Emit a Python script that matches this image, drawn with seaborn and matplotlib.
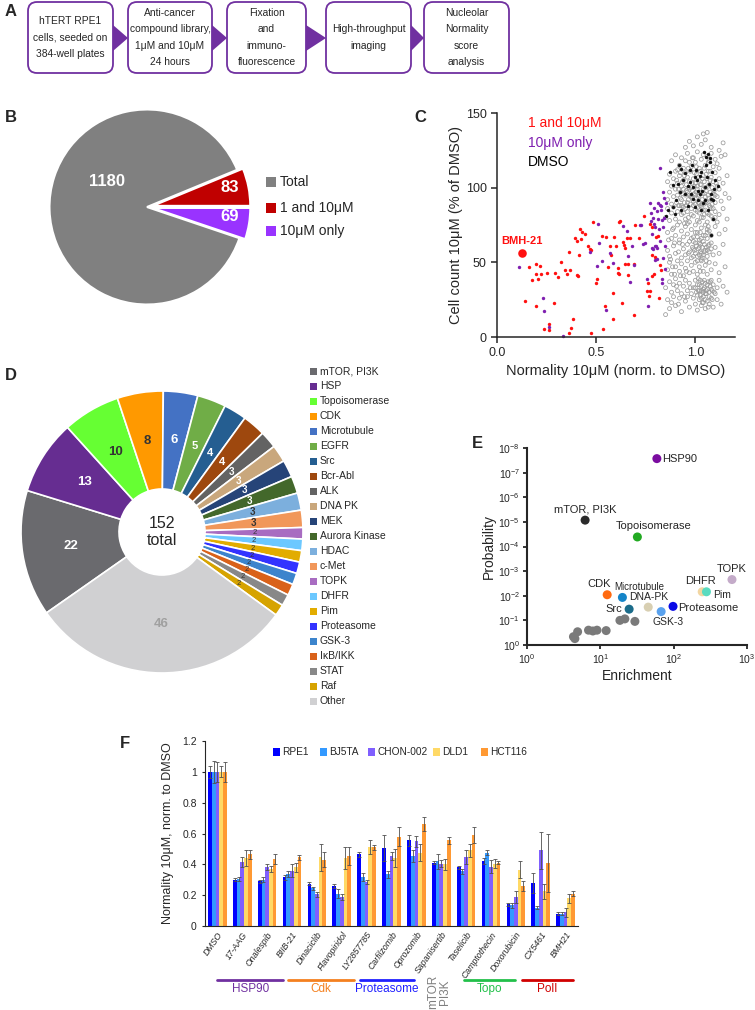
import numpy as np
import pandas as pd
import matplotlib
matplotlib.use("Agg")
import matplotlib.pyplot as plt
import seaborn as sns
from matplotlib import transforms, font_manager
from matplotlib.patches import FancyBboxPatch, Polygon, Rectangle
from matplotlib.ticker import FuncFormatter, NullLocator

# ---------------- A: workflow ----------------
steps = ["hTERT RPE1\ncells, seeded on\n384-well plates",
         "Anti-cancer\ncompound library,\n1μM and 10μM\n24 hours",
         "Fixation\nand\nimmuno-\nfluorescence",
         "High-throughput\nimaging",
         "Nucleolar\nNormality\nscore\nanalysis"]

# ---------------- B: hits pie ----------------
hit_labels = ["Total", "1 and 10μM", "10μM only"]
hit_counts = [1180, 83, 69]
hit_colors = ["#808080", "#C00000", "#9933FF"]

# ---------------- C: scatter ----------------
c_red = [(0.140, 24), (0.163, 47), (0.178, 38), (0.195, 49), (0.196, 42), (0.205, 39), (0.216, 47.5),
         (0.220, 42), (0.196, 21), (0.237, 5.6), (0.262, 5), (0.263, 9), (0.253, 43), (0.287, 23),
         (0.292, 43), (0.309, 40), (0.322, 50), (0.342, 45), (0.351, 42), (0.362, 57), (0.364, 2.7),
         (0.367, 45), (0.372, 6), (0.384, 12), (0.392, 66), (0.401, 41.5), (0.404, 64), (0.409, 41),
         (0.413, 55), (0.421, 72.5), (0.424, 65.6), (0.428, 70), (0.443, 69), (0.460, 61), (0.468, 58.7),
         (0.473, 2.7), (0.476, 58), (0.485, 77), (0.497, 36), (0.505, 38.6), (0.529, 67.4), (0.535, 5.6),
         (0.547, 20.8), (0.552, 67), (0.560, 47), (0.569, 61), (0.577, 55), (0.586, 29.5), (0.587, 12),
         (0.591, 67), (0.601, 60.7), (0.611, 43), (0.616, 42.4), (0.611, 46), (0.616, 77), (0.622, 77.5),
         (0.628, 23), (0.634, 63.6), (0.641, 61.8), (0.643, 48.6), (0.644, 59.8), (0.653, 66.3),
         (0.658, 49), (0.663, 41.7), (0.669, 66), (0.690, 15), (0.691, 48.6), (0.696, 75), (0.716, 66),
         (0.740, 81), (0.757, 30.6), (0.760, 36), (0.765, 27.5), (0.770, 31), (0.773, 76), (0.779, 73.7),
         (0.782, 40.6), (0.784, 55), (0.790, 42), (0.797, 53.6), (0.804, 67), (0.812, 67.4), (0.817, 26),
         (0.820, 48), (0.829, 44.6)]
c_purple = [(0.112, 47), (0.230, 26), (0.237, 17.6), (0.262, 7), (0.331, 0.5), (0.468, 57), (0.502, 47.5),
            (0.507, 75.4), (0.512, 63), (0.527, 51), (0.549, 18.3), (0.572, 56), (0.587, 49.5), (0.633, 74.3),
            (0.653, 70.7), (0.661, 54), (0.669, 37), (0.683, 61), (0.690, 48), (0.721, 75), (0.725, 75),
            (0.737, 62.5), (0.748, 63), (0.757, 39), (0.763, 20.8), (0.770, 89.7), (0.775, 83), (0.775, 77.5),
            (0.780, 69), (0.784, 59.8), (0.787, 80), (0.790, 86.4), (0.794, 76), (0.797, 60.7), (0.799, 51.8),
            (0.799, 73.7), (0.800, 61), (0.807, 59.8), (0.809, 52.5), (0.809, 84.4), (0.812, 79.2),
            (0.814, 89.7), (0.817, 72.5), (0.820, 88.6), (0.824, 113), (0.826, 84.8), (0.829, 87.5),
            (0.831, 78.6), (0.832, 39), (0.834, 36), (0.836, 53), (0.837, 97), (0.837, 73.7), (0.841, 80),
            (0.844, 93.3), (0.846, 60.7), (0.851, 89.7), (0.846, 45.8), (0.787, 59), (0.820, 64)]
c_dmso = [(0.874, 110.5), (0.918, 115.4), (0.926, 112.7), (0.946, 110), (0.963, 101), (0.985, 115),
          (0.997, 107), (1.005, 112), (1.008, 105), (1.025, 107.6), (1.03, 110.5), (1.035, 98),
          (1.039, 89.7), (1.044, 124), (1.047, 92), (1.055, 120.5), (1.059, 107), (1.064, 122.5),
          (1.069, 102.7), (1.072, 120), (1.075, 117), (1.077, 96), (1.081, 92.6), (1.086, 110.5),
          (1.089, 79), (1.092, 99), (1.097, 105), (0.988, 92.6), (0.98, 96), (0.946, 96), (0.921, 97),
          (0.904, 91.5), (0.888, 87), (0.862, 84.8), (0.851, 80.8), (0.896, 82.6), (0.93, 84.8),
          (0.963, 88), (0.997, 87), (1.013, 91.5), (1.022, 96), (1.047, 100.4), (1.089, 91.5),
          (1.081, 68), (0.888, 101.6), (0.913, 102.7), (0.938, 105), (0.971, 103.8), (1.013, 98),
          (1.03, 84.8), (1.064, 84.8), (1.114, 101), (1.055, 115), (0.971, 111.6), (0.988, 100.4)]
# all other compounds (open grey circles), x y pairs
c_other = """
0.97 131 1.01 134 1.04 136 1.06 137 1.03 129 1.08 127 1.12 125 0.95 127 1.05 132 0.99 128 1.14 130
0.88 118 0.90 122 0.92 115 0.93 120 0.95 118 0.96 123 0.98 114 0.99 120 1.00 117 1.01 124 1.02 113
1.03 119 1.05 115 1.06 121 1.07 118 1.08 123 1.09 114 1.10 119 1.11 116 1.13 121 1.15 122 0.94 113
0.97 117 1.04 122 1.12 113 0.91 112
0.86 104 0.87 109 0.88 101 0.89 106 0.90 111 0.91 103 0.92 108 0.93 101 0.94 105 0.95 110 0.955 102
0.96 107 0.97 104 0.975 111 0.98 100 0.99 106 1.00 103 1.005 109 1.01 101 1.02 105 1.025 111 1.03 102
1.04 108 1.045 104 1.05 100 1.06 106 1.065 111 1.07 102 1.08 107 1.09 104 1.10 110 1.11 101 1.12 106
1.14 103 1.16 108 0.965 100 1.015 107 1.055 109 0.925 110 1.085 100
0.86 92 0.87 97 0.88 89 0.89 94 0.90 99 0.905 90 0.91 95 0.92 88 0.925 97 0.93 92 0.94 99 0.945 90
0.95 95 0.955 88 0.96 97 0.965 92 0.97 99 0.975 89 0.98 94 0.985 98 0.99 91 0.995 96 1.00 89 1.005 93
1.01 99 1.015 90 1.02 95 1.025 88 1.03 97 1.035 92 1.04 99 1.045 89 1.05 94 1.055 98 1.06 90 1.065 95
1.07 88 1.075 97 1.08 92 1.09 96 1.10 90 1.11 94 1.12 99 1.13 91 1.15 96 1.17 93 0.935 96 0.985 93
1.035 96 1.085 89
0.85 80 0.86 86 0.87 78 0.88 83 0.89 87 0.90 79 0.91 84 0.92 77 0.93 82 0.94 87 0.95 79 0.96 84
0.97 77 0.98 86 0.99 81 1.00 85 1.01 78 1.02 83 1.03 87 1.04 80 1.05 85 1.06 77 1.07 82 1.08 86
1.09 79 1.10 84 1.11 77 1.12 82 1.14 86 1.16 79 0.965 80 1.015 87 1.045 82 0.915 88 1.075 87
0.86 70 0.88 66 0.89 73 0.90 68 0.91 75 0.92 65 0.93 71 0.94 67 0.95 74 0.96 69 0.97 64 0.98 72
0.99 67 1.00 75 1.01 70 1.02 65 1.03 73 1.04 68 1.05 75 1.06 66 1.07 71 1.08 68 1.10 74 1.12 69
1.15 72 0.945 76 1.025 70 1.065 74
0.86 58 0.87 54 0.89 61 0.90 56 0.92 63 0.93 53 0.94 59 0.95 55 0.96 62 0.97 57 0.98 53 0.985 60
0.99 64 1.00 56 1.005 61 1.01 54 1.015 59 1.02 63 1.025 57 1.03 52 1.035 60 1.04 55 1.045 62 1.05 58
1.06 54 1.065 61 1.07 57 1.08 63 1.09 55 1.10 60 1.12 56 1.14 62 0.995 58 1.055 60 1.02 55
0.86 45 0.87 50 0.88 42 0.90 47 0.91 51 0.92 44 0.93 49 0.94 41 0.95 46 0.96 51 0.97 43 0.98 48
0.99 44 1.00 50 1.01 42 1.02 47 1.03 51 1.04 44 1.05 48 1.06 42 1.07 50 1.08 45 1.10 49 1.12 43
1.15 47 1.025 44
0.85 33 0.87 37 0.88 30 0.89 35 0.90 39 0.91 31 0.92 36 0.93 29 0.94 34 0.95 38 0.96 31 0.97 36
0.98 29 0.99 33 1.00 38 1.005 30 1.01 35 1.015 39 1.02 31 1.025 28 1.03 34 1.035 37 1.04 30 1.045 33
1.05 36 1.055 29 1.06 32 1.065 37 1.07 30 1.075 34 1.08 38 1.085 31 1.09 35 1.10 29 1.11 33 1.12 38
1.14 34 1.16 30 1.03 31 1.05 29
0.86 25 0.87 19 0.88 23 0.89 27 0.90 21 0.92 26 0.93 17 0.95 24 0.97 20 0.99 26 1.00 22 1.01 18
1.02 25 1.03 21 1.04 27 1.05 19 1.06 24 1.07 22 1.08 26 1.09 20 1.11 25 1.13 22 0.96 27 1.04 23 0.85 15
0.935 104 0.945 108 0.955 98 0.965 113 0.975 94 0.985 103 0.995 110 1.005 97 1.015 94 1.025 102
1.035 106 1.045 96 1.055 91 1.065 101 1.075 105 1.085 94 1.095 98 1.105 103 0.95 86 0.96 90 0.97 95
0.98 82 0.99 88 1.00 95 1.01 84 1.02 90 1.03 80 1.04 85 1.05 90 1.06 83 1.07 93 1.08 81 1.09 86
1.10 95 0.925 93 0.915 99 0.905 105 0.995 101 1.035 89 1.005 114 1.045 113 1.065 117 0.985 120
1.075 111 0.94 83 0.96 76 1.02 77 1.06 72 1.10 80 0.93 88
0.98 66 0.99 59 1.00 63 1.01 67 1.02 60 1.03 56 1.04 64 1.05 68 1.06 58 1.07 62 1.035 53 1.045 57
1.055 51 1.01 51 0.99 54 1.00 70 1.03 66 1.06 70 1.08 59 1.025 62
1.00 33 1.01 28 1.02 35 1.03 26 1.04 32 1.05 25 1.06 35 1.07 27 1.08 32 1.035 23 1.045 38 1.055 31
1.065 20 1.025 38 1.015 31 1.075 37 1.085 25 1.095 30
0.865 65 0.875 52 0.885 47 0.895 63 0.905 34 0.915 57 0.925 41 0.935 62 0.945 27 0.955 44 0.965 56
0.975 33 0.885 72 0.895 42 0.915 22
"""
bmh21 = (0.128, 56)

# ---------------- D: target classes ----------------
d_targets = ["mTOR, PI3K", "HSP", "Topoisomerase", "CDK", "Microtubule", "EGFR", "Src", "Bcr-Abl",
             "ALK", "DNA PK", "MEK", "Aurora Kinase", "HDAC", "c-Met", "TOPK", "DHFR", "Pim",
             "Proteasome", "GSK-3", "IκB/IKK", "STAT", "Raf", "Other"]
d_counts = [22, 13, 10, 8, 6, 5, 4, 4, 3, 3, 3, 3, 3, 3, 2, 2, 2, 2, 2, 2, 2, 2, 46]
d_colors = ["#6A6A6E", "#662D91", "#66FF33", "#FF9900", "#4472C4", "#70AD47", "#255E91", "#9E480E",
            "#636363", "#C9A77C", "#264478", "#43682B", "#7CAFDD", "#F1975A", "#A86CC1", "#6CC8FF",
            "#E2AC00", "#3333FF", "#3C84CC", "#D9621A", "#888888", "#D6A300", "#D0D0D2"]
d_total = sum(d_counts)

# ---------------- E: enrichment ----------------
e_names = ["HSP90", "mTOR, PI3K", "Topoisomerase", "TOPK", "DHFR", "Pim", "CDK", "Microtubule",
           "DNA-PK", "Src", "Proteasome", "GSK-3"]
e_enrich = [59, 6.2, 32, 624, 245, 280, 12.4, 20, 45, 24.7, 98, 67.5]
e_prob = [2.7e-8, 8.5e-6, 4.1e-5, 2.2e-3, 6.9e-3, 6.9e-3, 9.1e-3, 1.17e-2, 2.9e-2, 3.5e-2, 2.7e-2, 4.4e-2]
e_colors = ["#7B0DA0", "#2B2B2B", "#22AA22", "#C4ABC9", "#F2D6A2", "#5ADBC0", "#FF6A10", "#1585C8",
            "#D8CFB2", "#1B6C8A", "#0A0AE6", "#5AA2EE"]
e_other_enrich = [4.3, 4.5, 4.9, 6.9, 7.9, 9.0, 12.0, 18.5, 21.6, 29.6]
e_other_prob = [0.46, 0.55, 0.29, 0.25, 0.27, 0.25, 0.26, 0.10, 0.087, 0.11]

# ---------------- F: cell lines ----------------
f_compounds = ["DMSO", "17-AAG", "Onalespib", "BIIB-21", "Dinaciclib", "Flavopiridol", "LY2857785",
               "Carfilzomib", "Oprozomib", "Sapanisertib", "Taselicib", "Camptothecin", "Doxorubicin",
               "CX5461", "BMH21"]
f_lines = ["RPE1", "BJ5TA", "CHON-002", "DLD1", "HCT116"]
f_colors = ["#0000FF", "#3399FF", "#7F5FFF", "#FFD966", "#FF9933"]
f_rpe1 = [1.00, 0.30, 0.29, 0.315, 0.275, 0.26, 0.465, 0.505, 0.555, 0.41, 0.38, 0.42, 0.14, 0.28, 0.08]
f_bj5ta = [1.00, 0.305, 0.30, 0.335, 0.245, 0.21, 0.32, 0.335, 0.455, 0.42, 0.355, 0.475, 0.135, 0.12, 0.08]
f_chon = [1.00, 0.415, 0.385, 0.36, 0.205, 0.19, 0.285, 0.455, 0.55, 0.405, 0.45, 0.385, 0.19, 0.49, 0.09]
f_dld1 = [1.00, 0.44, 0.37, 0.38, 0.445, 0.44, 0.515, 0.44, 0.475, 0.40, 0.49, 0.405, 0.365, 0.225, 0.18]
f_hct116 = [1.00, 0.465, 0.435, 0.445, 0.43, 0.455, 0.51, 0.58, 0.66, 0.555, 0.59, 0.41, 0.26, 0.41, 0.21]
f_rpe1_err = [0.04, 0.01, 0.01, 0.015, 0.01, 0.015, 0.015, 0.085, 0.035, 0.01, 0.01, 0.02, 0.01, 0.065, 0.01]
f_bj5ta_err = [0.07, 0.01, 0.015, 0.02, 0.01, 0.03, 0.025, 0.025, 0.04, 0.05, 0.015, 0.015, 0.015, 0.01, 0.01]
f_chon_err = [0.065, 0.035, 0.02, 0.04, 0.015, 0.02, 0.015, 0.025, 0.035, 0.02, 0.045, 0.04, 0.04, 0.12, 0.03]
f_dld1_err = [0.035, 0.05, 0.02, 0.03, 0.09, 0.07, 0.045, 0.06, 0.055, 0.035, 0.045, 0.03, 0.055, 0.05, 0.03]
f_hct116_err = [0.065, 0.03, 0.03, 0.015, 0.05, 0.06, 0.015, 0.06, 0.045, 0.02, 0.05, 0.01, 0.035, 0.19, 0.015]
# drug classes under the tick labels: name, start, end (in category units), colour
f_groups = [("HSP90", 0.0, 2.65, "#7030A0"), ("Cdk", 2.85, 5.5, "#F4801F"),
            ("Proteasome", 5.75, 7.9, "#2020FF"), ("Topo", 9.9, 11.95, "#22C04A"),
            ("PolI", 12.25, 14.3, "#D00000")]

# ---------------- style ----------------
sns.set_style("ticks")
plt.rcParams["font.family"] = ["Liberation Sans", "DejaVu Sans"]
plt.rcParams["mathtext.default"] = "regular"
try:
    font_manager.findfont("Liberation Sans Narrow", fallback_to_default=False)
    NARROW = ["Liberation Sans Narrow", "Liberation Sans", "DejaVu Sans"]
    A_SIZE = 8.3
except ValueError:
    NARROW = ["Liberation Sans", "DejaVu Sans"]
    A_SIZE = 7.4

W, H = 755, 1010
fig = plt.figure(figsize=(W / 100, H / 100), dpi=100)


def rect(left, top, w, h):
    return [left / W, 1 - (top + h) / H, w / W, h / H]


# ---- B ----
axB = fig.add_axes(rect(37, 97, 220, 220))
b_order = [1, 2, 0]
axB.pie([hit_counts[i] for i in b_order], colors=[hit_colors[i] for i in b_order],
        explode=[0.06, 0.06, 0], startangle=360 * hit_counts[1] / sum(hit_counts), counterclock=False,
        wedgeprops=dict(edgecolor="white", linewidth=1.5))
axB.set_xlim(-1.128, 1.128)
axB.set_ylim(-1.128, 1.128)
axB.set_aspect("equal")
for (tx, ty), n in zip([(-0.41, 0.26), (0.85, 0.195), (0.85, -0.10)], hit_counts):
    axB.text(tx, ty, str(n), color="white", fontsize=12, fontweight="bold", ha="center", va="center")

# ---- C ----
axC = fig.add_axes(rect(497, 113, 238, 224))
other = np.array(c_other.split(), dtype=float).reshape(-1, 2)
sns.scatterplot(x=other[:, 0], y=other[:, 1], ax=axC, s=8, marker="o", facecolor="none",
                edgecolor="#9A9A9A", linewidth=0.55, clip_on=False)
for pts, col in [(c_dmso, "#111111"), (c_red, "#FF1010"), (c_purple, "#7F1FB0")]:
    px, py = zip(*pts)
    sns.scatterplot(x=list(px), y=list(py), ax=axC, color=col, s=6, linewidth=0, clip_on=False)
sns.scatterplot(x=[bmh21[0]], y=[bmh21[1]], ax=axC, color="#FF1010", s=38, linewidth=0)
axC.annotate("BMH-21", bmh21, xytext=(0, 5), textcoords="offset points", ha="center", va="bottom",
             color="#FF1010", fontsize=8, fontweight="bold")
axC.set_xlim(0, 1.2)
axC.set_ylim(0, 150)
axC.set_xticks([0, 0.5, 1.0])
axC.set_xticklabels(["0.0", "0.5", "1.0"])
axC.set_yticks([0, 50, 100, 150])
axC.tick_params(labelsize=9, width=1.1, length=4)
for s in ["left", "bottom"]:
    axC.spines[s].set_linewidth(1.1)
sns.despine(ax=axC)
axC.set_xlabel("Normality 10μM (norm. to DMSO)", fontsize=10.5, labelpad=3)
axC.set_ylabel("Cell count 10μM (% of DMSO)", fontsize=10.5, labelpad=2)
for i, (txt, col) in enumerate([("1 and 10μM", "#FF1010"), ("10μM only", "#7F1FB0"), ("DMSO", "black")]):
    axC.text(0.13, 0.955 - i * 0.087, txt, transform=axC.transAxes, color=col, fontsize=10, va="center")

# ---- D ----
axD = fig.add_axes(rect(12, 382, 300, 300))
wedgesD, _ = axD.pie(d_counts, colors=d_colors, startangle=215, counterclock=False,
                     wedgeprops=dict(width=0.695, edgecolor="white", linewidth=1.2))
axD.set_xlim(-1.064, 1.064)
axD.set_ylim(-1.064, 1.064)
axD.set_aspect("equal")
dark_labels = {"Topoisomerase", "CDK", "HDAC", "c-Met"}
for w, name, n in zip(wedgesD, d_targets, d_counts):
    ang = np.deg2rad((w.theta1 + w.theta2) / 2)
    if name == "Other":
        col, fs, fw = "#A0A0A0", 9.5, "bold"
    elif n == 2:
        col, fs, fw = "#333333", 5.5, "normal"
    elif name in dark_labels:
        col, fs, fw = "#333333", 9.5 if n > 3 else 7, "bold"
    else:
        col, fs, fw = "white", 9.5 if n > 5 else (8 if n > 3 else 7), "bold"
    axD.text(0.655 * np.cos(ang), 0.655 * np.sin(ang), str(n), color=col, fontsize=fs, fontweight=fw,
             ha="center", va="center")
axD.text(0, 0, f"{d_total}\ntotal", ha="center", va="center", fontsize=11.5, linespacing=1.15)

# ---- E ----
axE = fig.add_axes(rect(527, 448, 220, 197))
e_df = pd.DataFrame({"target": e_names + ["other"] * len(e_other_enrich),
                     "enrichment": e_enrich + e_other_enrich,
                     "probability": e_prob + e_other_prob})
e_pal = dict(zip(e_names, e_colors))
e_pal["other"] = "#7A7A7A"
sns.scatterplot(data=e_df, x="enrichment", y="probability", hue="target", palette=e_pal, s=42,
                linewidth=0, legend=False, ax=axE, clip_on=False)
axE.set_xscale("log")
axE.set_yscale("log")
axE.set_xlim(1, 1000)
axE.set_ylim(1, 1e-8)
axE.set_xticks([1, 10, 100, 1000])
axE.set_yticks([10.0 ** -k for k in range(9)])
axE.xaxis.set_minor_locator(NullLocator())
axE.yaxis.set_minor_locator(NullLocator())
axE.tick_params(labelsize=7.5, width=1.3, length=3, pad=2)
for s in ["left", "bottom"]:
    axE.spines[s].set_linewidth(1.5)
sns.despine(ax=axE)
axE.set_xlabel("Enrichment", fontsize=10, labelpad=2)
axE.set_ylabel("Probability", fontsize=10, labelpad=2)
e_text = {"HSP90": ((4, 0), "left", "center", 8),
          "mTOR, PI3K": ((0, 4), "center", "bottom", 8),
          "Topoisomerase": ((12, 4), "center", "bottom", 8),
          "TOPK": ((0, 4), "center", "bottom", 8),
          "DHFR": ((-1, 4), "center", "bottom", 8),
          "Pim": ((5, -2.5), "left", "center", 7.5),
          "CDK": ((-6, 4), "center", "bottom", 8),
          "Microtubule": ((12, 4), "center", "bottom", 7),
          "DNA-PK": ((0, 4), "center", "bottom", 7.5),
          "Src": ((-5, 0), "right", "center", 8),
          "Proteasome": ((4, -1), "left", "center", 8),
          "GSK-3": ((5, -4), "center", "top", 7.5)}
for name, x, y in zip(e_names, e_enrich, e_prob):
    off, ha, va, fs = e_text[name]
    axE.annotate(name, (x, y), xytext=off, textcoords="offset points", ha=ha, va=va, fontsize=fs)

# ---- F ----
axF = fig.add_axes(rect(205, 741, 373, 185))
f_vals = [f_rpe1, f_bj5ta, f_chon, f_dld1, f_hct116]
f_errs = [f_rpe1_err, f_bj5ta_err, f_chon_err, f_dld1_err, f_hct116_err]
f_df = pd.DataFrame([{"compound": c, "line": ln, "value": v}
                     for ln, vals in zip(f_lines, f_vals) for c, v in zip(f_compounds, vals)])
sns.barplot(data=f_df, x="compound", y="value", hue="line", order=f_compounds, hue_order=f_lines,
            palette=dict(zip(f_lines, f_colors)), saturation=1, width=0.75, errorbar=None,
            legend=False, linewidth=0, ax=axF)
for cont, vals, errs in zip(axF.containers, f_vals, f_errs):
    xs = [b.get_x() + b.get_width() / 2 for b in cont]
    axF.errorbar(xs, vals, yerr=errs, fmt="none", ecolor="#505050", elinewidth=0.6,
                 capsize=1.3, capthick=0.6)
axF.set_xlim(-0.5, 14.5)
axF.set_ylim(0, 1.2)
axF.set_yticks([0, 0.2, 0.4, 0.6, 0.8, 1.0, 1.2])
axF.yaxis.set_major_formatter(FuncFormatter(lambda v, p: f"{v:g}"))
axF.set_xticks(range(len(f_compounds)))
axF.set_xticklabels(f_compounds, rotation=55, ha="right", rotation_mode="anchor",
                    fontstyle="italic", fontsize=6.3, family=NARROW)
axF.tick_params(axis="x", length=0, pad=3)
axF.tick_params(axis="y", labelsize=7.5, length=2.5, width=0.8)
for lab in axF.get_yticklabels():
    lab.set_family(NARROW)
sns.despine(ax=axF)
axF.set_xlabel("")
axF.set_ylabel("Normality 10μM, norm. to DMSO", fontsize=9, labelpad=6, family=NARROW)
trF = transforms.blended_transform_factory(axF.transData, axF.transAxes)
for name, x0, x1, col in f_groups:
    axF.plot([x0, x1], [-0.292, -0.292], transform=trF, clip_on=False, color=col, lw=2)
    axF.text((x0 + x1) / 2, -0.338, name, transform=trF, color=col, fontsize=8.5, ha="center",
             va="center", family=NARROW)
axF.text(8.9, -0.357, "mTOR\nPI3K", transform=trF, color="#7F7F7F", fontsize=8.5, rotation=90,
         ha="center", va="center", family=NARROW, linespacing=0.95)

# ---- overlay: workflow, legends drawn by hand, panel letters ----
ov = fig.add_axes([0, 0, 1, 1], facecolor="none")
ov.set_xlim(0, W)
ov.set_ylim(H, 0)
ov.axis("off")
box_x = [(28, 113), (128, 212), (227, 306), (326, 411), (424, 509)]
for (x0, x1), txt in zip(box_x, steps):
    ov.add_patch(FancyBboxPatch((x0, 2), x1 - x0, 71, boxstyle="round,pad=0,rounding_size=9",
                                fc="white", ec="#7030A0", lw=1.3))
    ov.text((x0 + x1) / 2, 37.5, txt, ha="center", va="center", fontsize=A_SIZE,
            linespacing=1.8, family=NARROW)
for (_, x1), (nx0, _) in zip(box_x[:-1], box_x[1:]):
    ov.add_patch(Polygon([(x1, 25), (x1, 51), (nx0, 38)], closed=True, fc="#7030A0", ec="none"))

for i, (lab, col) in enumerate(zip(hit_labels, hit_colors)):
    y = [182, 208, 231][i]
    ov.add_patch(Rectangle((266, y - 5), 10, 10, fc=col, ec="none"))
    ov.text(280, y, lab, fontsize=10, va="center")

for i, (lab, col) in enumerate(zip(d_targets, d_colors)):
    y = 371 + 15 * i
    ov.add_patch(Rectangle((310, y - 3.5), 7, 7, fc=col, ec="none"))
    ov.text(320, y, lab, fontsize=7.5, va="center")

for lab, col, x in zip(f_lines, f_colors, [273, 320, 368, 433, 481]):
    ov.add_patch(Rectangle((x, 748), 7, 8, fc=col, ec="none"))
    ov.text(x + 9, 752, lab, fontsize=7.3, va="center", family=NARROW)

for letter, (x, y) in zip("ABCDEF", [(5, 11), (5, 117), (414, 117), (5, 375), (472, 443), (120, 743)]):
    ov.text(x, y, letter, fontsize=12, fontweight="bold", va="center", ha="left")

fig.savefig("out.png", dpi=100)
